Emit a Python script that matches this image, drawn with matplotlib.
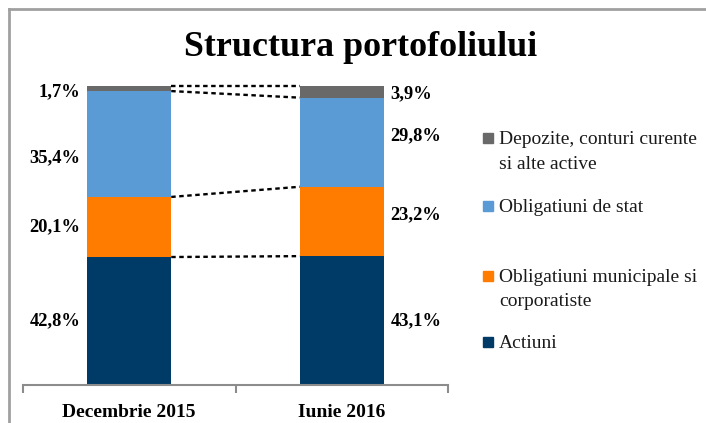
import matplotlib
matplotlib.use("Agg")
import matplotlib.pyplot as plt
from matplotlib.lines import Line2D
from matplotlib.patches import Rectangle
import numpy as np

plt.rcParams['font.family'] = ['Liberation Serif', 'DejaVu Serif']

categories = ["Decembrie 2015", "Iunie 2016"]
series_names = ["Actiuni", "Obligatiuni municipale si\ncorporatiste",
                "Obligatiuni de stat", "Depozite, conturi curente\nsi alte active"]
actiuni = [42.8, 43.1]
oblig_munic = [20.1, 23.2]
oblig_stat = [35.4, 29.8]
depozite = [1.7, 3.9]
label_texts = [["42,8%", "43,1%"], ["20,1%", "23,2%"], ["35,4%", "29,8%"], ["1,7%", "3,9%"]]

colors = ["#003A66", "#FF7C00", "#5B9BD5", "#696969"]
series = [actiuni, oblig_munic, oblig_stat, depozite]

W, H = 706, 423
fig = plt.figure(figsize=(W / 100, H / 100), dpi=100)

def fx(px):
    return px / W

def fy(py):
    return 1 - py / H

# axes: x from 23 to 448 px, y 0 at 385 px, 100 at 86 px
ax = fig.add_axes([fx(23), fy(385), fx(448) - fx(23), fy(86) - fy(385)])
x = np.arange(len(categories))
bw = 0.395
bottom = np.zeros(len(categories))
tops = []
for vals, c in zip(series, colors):
    vals = np.array(vals)
    ax.bar(x, vals, bw, bottom=bottom, color=c, edgecolor='none', zorder=2)
    tops.append(bottom + vals)
    bottom = bottom + vals

# dashed connectors between bars
for t in tops:
    ax.plot([x[0] + bw / 2, x[1] - bw / 2], [t[0], t[1]], color='black',
            lw=1.7, linestyle=(0, (1.9, 1.5)), zorder=3, clip_on=False)

# data labels
bottom = np.zeros(len(categories))
offsets = [[0, 0], [0, 7], [-14, 6], [-3, -2]]  # offsets in px (up positive)
for k, vals in enumerate(series):
    vals = np.array(vals)
    centers = bottom + vals / 2
    for i in range(len(categories)):
        if i == 0:
            xx, ha, dx = x[i] - bw / 2, 'right', -7
        else:
            xx, ha, dx = x[i] + bw / 2, 'left', 7
        ax.annotate(label_texts[k][i], (xx, centers[i]), xytext=(dx * 0.72, offsets[k][i] * 0.72),
                    textcoords='offset points', ha=ha, va='center', fontsize=13.3,
                    fontweight='bold', annotation_clip=False)
    bottom = bottom + vals

ax.set_xlim(-0.5, 1.5)
ax.set_ylim(0, 100)
for s in ['left', 'right', 'top']:
    ax.spines[s].set_visible(False)
ax.spines['bottom'].set_color('#8C8C8C')
ax.spines['bottom'].set_linewidth(1.5)
ax.set_yticks([])
ax.set_xticks(x)
ax.set_xticklabels(categories, fontsize=14, fontweight='bold')
ax.tick_params(axis='x', which='major', length=0, pad=14)
ax.set_xticks([-0.5, 0.5, 1.5], minor=True)
ax.tick_params(axis='x', which='minor', length=6, width=1.5, color='#8C8C8C', direction='out')

# title
fig.text(fx(361), fy(48), "Structura portofoliului", ha='center', va='center',
         fontsize=25.8, fontweight='bold')

# legend (manual)
leg_items = [(3, 139), (2, 207), (1, 276), (0, 342)]
for idx, ym in leg_items:
    fig.patches.append(Rectangle((fx(483), fy(ym + 4.5)), fx(10), 10 / H,
                                 transform=fig.transFigure, color=colors[idx]))
    fig.text(fx(499), fy(ym - 7.5), series_names[idx], ha='left', va='top',
             fontsize=14, linespacing=1.58, color='#1a1a1a')

# outer frame
fig.add_artist(Line2D([fx(8.5), fx(8.5)], [fy(9.5), 0], transform=fig.transFigure,
                      color='#A0A0A0', lw=2))
fig.add_artist(Line2D([fx(8.5), 1], [fy(9.5), fy(9.5)], transform=fig.transFigure,
                      color='#A0A0A0', lw=2))

fig.savefig("out.png", dpi=100)
